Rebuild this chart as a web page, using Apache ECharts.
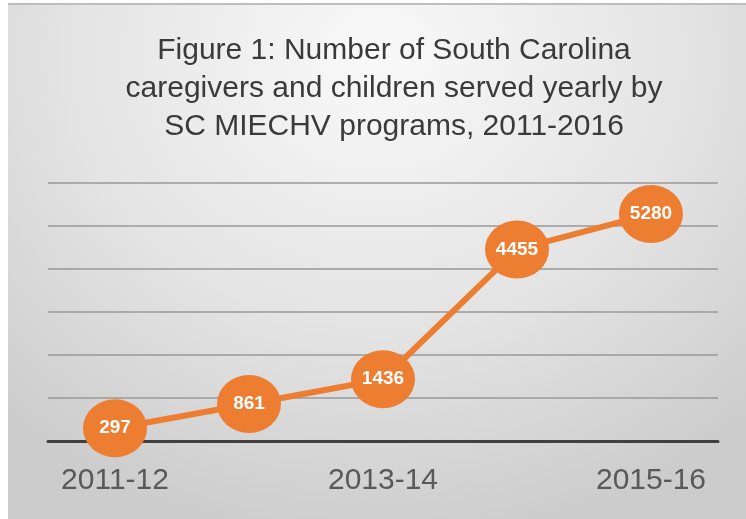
<!DOCTYPE html>
<html>
<head>
<meta charset="utf-8">
<script src="https://cdn.jsdelivr.net/npm/echarts@6/dist/echarts.min.js"></script>
<style>
  html, body { margin: 0; padding: 0; background: #ffffff; }
  .frame {
    position: absolute; left: 8px; top: 3px; width: 738px; height: 516px;
    border-top: 2px solid #bdbdbd;
    background: radial-gradient(ellipse 75% 95% at 50% 10%, #f9f9f9 0%, #e4e4e4 55%, #cccccc 100%);
  }
  #chart { position: absolute; left: 0; top: 0; width: 746px; height: 519px; }
</style>
</head>
<body>
<div class="frame"></div>
<div id="chart"></div>
<script>
  var years = ['2011-12', '2012-13', '2013-14', '2014-15', '2015-16']
  var served = [297, 861, 1436, 4455, 5280]
  var titleText = 'Figure 1: Number of South Carolina\ncaregivers and children served yearly by\nSC MIECHV programs, 2011-2016'

  var chart = echarts.init(document.getElementById('chart'))
  chart.setOption({
    backgroundColor: 'transparent',
    title: {
      text: titleText,
      left: 389,
      top: 27,
      textAlign: 'center',
      textStyle: {
        fontFamily: 'Liberation Sans',
        fontSize: 30,
        fontWeight: 'normal',
        color: '#3a3a3a',
        lineHeight: 38
      }
    },
    grid: { left: 48, right: 28, top: 183, bottom: 78 },
    xAxis: {
      type: 'category',
      data: years,
      boundaryGap: true,
      axisLine: { lineStyle: { color: '#404040', width: 3 } },
      axisTick: { show: false },
      axisLabel: {
        interval: 1,
        margin: 25,
        fontFamily: 'Liberation Sans',
        fontSize: 30,
        color: '#595959'
      }
    },
    yAxis: {
      type: 'value',
      min: 0,
      max: 6000,
      interval: 1000,
      axisLabel: { show: false },
      axisLine: { show: false },
      axisTick: { show: false },
      splitLine: { lineStyle: { color: '#999999', width: 1.5 } }
    },
    series: [{
      type: 'line',
      data: served,
      symbol: 'circle',
      symbolSize: [64, 58],
      lineStyle: { color: '#ed7d31', width: 6 },
      itemStyle: { color: '#ed7d31' },
      label: {
        show: true,
        position: 'inside',
        fontFamily: 'Liberation Sans',
        fontSize: 19,
        fontWeight: 'bold',
        color: '#ffffff'
      }
    }]
  })
</script>
</body>
</html>
